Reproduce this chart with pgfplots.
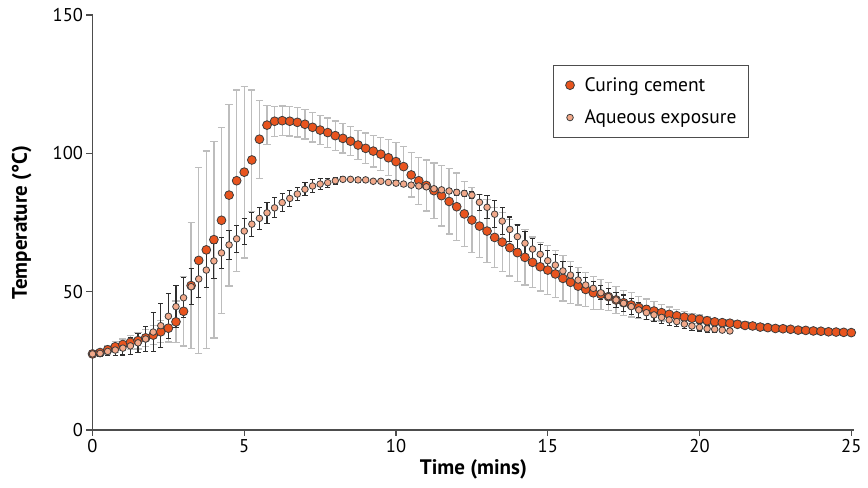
\documentclass[border=0pt]{standalone}
\usepackage{fontspec}
\setmainfont{PT Sans}
\usepackage{pgfplots}
\pgfplotsset{compat=1.18}
\usepackage{pgfplotstable}
\definecolor{curing}{HTML}{E8541E}
\definecolor{aqueous}{HTML}{F2A98A}
\definecolor{edge}{HTML}{3C3C3C}
\definecolor{gbar}{HTML}{BDBDBD}
\definecolor{kbar}{HTML}{2E2E2E}
\definecolor{axisc}{HTML}{4D4D4D}

\pgfplotstableread{
t T ep em
0 27.5 1.0 1.0
0.25 28.0 1.0 1.0
0.5 29.0 1.5 1.5
0.75 30.1 2.0 2.0
1 30.9 2.0 2.0
1.25 31.7 2.5 2.5
1.5 32.3 3.0 3.0
1.75 33.3 3.0 3.0
2 34.3 3.5 3.5
2.25 35.5 4.0 4.0
2.5 36.8 5.0 5.0
2.75 39.1 7.5 7.5
3 42.9 12.5 12.5
3.25 52.2 22.7 22.7
3.5 61.3 33.6 33.6
3.75 65.1 35.7 35.7
4 68.8 35.6 35.6
4.25 75.8 33.6 33.6
4.5 84.9 32.8 32.8
4.75 90.1 32.8 32.8
5 93.2 31.0 31.0
5.25 97.6 25.3 18.7
5.5 105.1 14.1 14.1
5.75 110.2 7.0 7.0
6 111.6 5.4 5.4
6.25 111.8 5.3 5.3
6.5 111.6 5.3 5.3
6.75 111.2 5.3 5.3
7 110.5 5.3 5.3
7.25 109.4 5.3 5.3
7.5 108.4 5.3 5.3
7.75 107.5 5.3 5.3
8 106.4 5.3 5.3
8.25 105.4 5.3 5.3
8.5 104.4 5.3 5.3
8.75 103.0 5.3 5.3
9 101.8 5.5 5.5
9.25 100.8 5.7 5.7
9.5 99.7 6.0 6.0
9.75 98.4 6.5 6.5
10 97.0 6.8 6.8
10.25 95.2 7.2 7.2
10.5 92.2 8.0 8.0
10.75 90.1 8.5 8.5
11 88.4 9.2 9.2
11.25 86.5 10.0 10.0
11.5 84.7 11.0 11.0
11.75 82.6 11.8 11.8
12 80.7 12.2 12.2
12.25 78.1 11.8 11.8
12.5 75.9 11.7 11.7
12.75 73.7 11.3 11.3
13 71.9 11.3 11.3
13.25 69.6 10.8 10.8
13.5 67.9 10.7 10.7
13.75 65.9 10.2 10.2
14 64.1 10.3 10.3
14.25 62.4 10.0 10.0
14.5 60.6 9.2 9.2
14.75 59.0 8.8 8.8
15 57.8 8.8 8.8
15.25 56.4 8.6 8.6
15.5 54.8 8.2 8.2
15.75 53.4 7.6 7.6
16 52.0 6.8 6.8
16.25 50.8 6.2 6.2
16.5 49.6 6.0 6.0
16.75 49.0 5.5 5.5
17 48.2 5.0 5.0
17.25 47.0 4.8 4.8
17.5 46.0 4.5 4.5
17.75 45.2 4.4 4.4
18 44.3 4.0 4.0
18.25 43.6 3.7 3.7
18.5 43.0 3.4 3.4
18.75 42.4 3.0 3.0
19 41.8 2.7 2.7
19.25 41.3 2.3 2.3
19.5 40.8 2.0 2.0
19.75 40.4 1.8 1.8
20 40.0 1.6 1.6
20.25 39.5 1.4 1.4
20.5 39.1 1.3 1.3
20.75 38.8 1.2 1.2
21 38.6 1.2 1.2
21.25 38.2 1.2 1.2
21.5 37.8 1.2 1.2
21.75 37.6 1.2 1.2
22 37.2 1.2 1.2
22.25 37.0 1.1 1.1
22.5 36.7 1.1 1.1
22.75 36.6 1.1 1.1
23 36.4 1.1 1.1
23.25 36.1 1.0 1.0
23.5 36.0 1.0 1.0
23.75 35.8 1.0 1.0
24 35.7 1.0 1.0
24.25 35.5 1.0 1.0
24.5 35.4 1.0 1.0
24.75 35.3 1.0 1.0
25 35.2 1.0 1.0
}\curingdata

\pgfplotstableread{
t T e
0 27.5 0.5
0.25 27.7 1.0
0.5 28.4 1.5
0.75 28.9 2.0
1 29.6 2.5
1.25 30.4 3.0
1.5 31.5 3.5
1.75 32.9 4.5
2 35.4 7.0
2.25 37.7 8.0
2.5 41.1 8.1
2.75 44.6 7.6
3 47.8 7.3
3.25 51.8 6.6
3.5 54.6 6.6
3.75 57.8 6.2
4 61.1 6.4
4.25 64.0 5.5
4.5 66.9 5.2
4.75 69.1 4.8
5 71.9 4.7
5.25 74.4 4.3
5.5 76.5 4.0
5.75 78.5 3.8
6 80.3 3.6
6.25 82.2 3.3
6.5 83.7 3.0
6.75 85.3 2.4
7 87.0 2.3
7.25 88.2 2.3
7.5 88.9 2.1
7.75 89.4 1.6
8 90.1 1.2
8.25 90.6 0.9
8.5 90.6 0.8
8.75 90.4 0.8
9 90.4 0.8
9.25 89.9 0.8
9.5 89.9 0.8
9.75 89.5 0.8
10 89.2 0.8
10.25 88.9 0.8
10.5 88.5 0.8
10.75 88.2 0.8
11 87.9 0.8
11.25 87.2 0.8
11.5 86.8 0.9
11.75 86.4 1.0
12 85.9 1.0
12.25 85.5 1.0
12.5 84.9 1.2
12.75 82.3 2.9
13 80.5 4.1
13.25 78.0 4.9
13.5 75.5 4.8
13.75 72.5 4.5
14 69.9 4.2
14.25 67.5 4.2
14.5 65.4 3.9
14.75 63.5 3.6
15 61.2 3.6
15.25 59.6 3.7
15.5 57.5 3.3
15.75 56.0 3.0
16 54.2 2.8
16.25 52.4 2.7
16.5 51.2 2.4
16.75 49.6 2.5
17 48.2 2.8
17.25 47.0 2.8
17.5 45.8 3.0
17.75 44.6 2.8
18 43.4 2.6
18.25 42.4 2.5
18.5 41.6 2.3
18.75 40.7 2.1
19 39.8 2.0
19.25 39.2 1.8
19.5 38.3 1.6
19.75 37.6 1.5
20 37.1 1.3
20.25 36.6 1.2
20.5 36.4 1.1
20.75 36.1 1.0
21 35.8 1.0
}\aqueousdata

\begin{document}
\begin{tikzpicture}
\useasboundingbox (0,0) rectangle (868bp,488bp);
\begin{axis}[
  at={(92.5bp,58bp)}, anchor=south west,
  scale only axis, width=761.8bp, height=415bp,
  xmin=0, xmax=25.1, ymin=0, ymax=150,
  clip=false,
  axis x line*=bottom, axis y line*=left,
  axis line style={axisc, line width=1.2bp},
  xtick={0,5,10,15,20,25}, ytick={0,50,100,150},
  minor tick num=0,
  tick align=outside, major tick length=6bp,
  tick style={axisc, line width=1.2bp},
  font=\fontsize{18.5bp}{22bp}\selectfont,
  /pgf/number format/assume math mode=true,
  xlabel={\bfseries Time (mins)},
  ylabel={\bfseries Temperature (°C)},
  x label style={at={(axis description cs:0.5,-0.094)}, anchor=center, font=\fontsize{21bp}{24bp}\selectfont},
  y label style={at={(axis description cs:-0.093,0.5)}, anchor=center, font=\fontsize{21bp}{24bp}\selectfont},
  legend style={at={(axis description cs:0.6045,0.8795)}, anchor=north west,
    draw=axisc, line width=1bp, fill=white,
    inner xsep=10bp, inner ysep=10bp, row sep=13bp,
    font=\fontsize{19.5bp}{22bp}\selectfont},
  legend cell align=left,
  legend image code/.code={\draw[#1] plot coordinates {(6bp,0bp)}; \path (0bp,0bp) (18bp,0bp);},
]
\addplot[only marks, mark=*, mark size=4.4bp, mark options={fill=curing, draw=edge, line width=0.8bp}]
  table[x=t, y=T] {\curingdata};
\addlegendentry{Curing cement}
\addplot[draw=none, mark=none, forget plot,
  error bars/.cd, y dir=both, y explicit,
  error bar style={draw=gbar, line width=1.3bp},
  error mark options={draw=gbar, line width=1.3bp, mark size=3.6bp, rotate=90}]
  table[x=t, y=T, y error plus=ep, y error minus=em] {\curingdata};
\addplot[only marks, mark=*, mark size=3.3bp, mark options={fill=aqueous, draw=edge, line width=0.8bp}]
  table[x=t, y=T] {\aqueousdata};
\addlegendentry{Aqueous exposure}
\addplot[draw=none, mark=none, forget plot,
  error bars/.cd, y dir=both, y explicit,
  error bar style={draw=kbar, line width=1.1bp},
  error mark options={draw=kbar, line width=1.1bp, mark size=2.6bp, rotate=90}]
  table[x=t, y=T, y error=e] {\aqueousdata};
\end{axis}
\end{tikzpicture}
\end{document}
